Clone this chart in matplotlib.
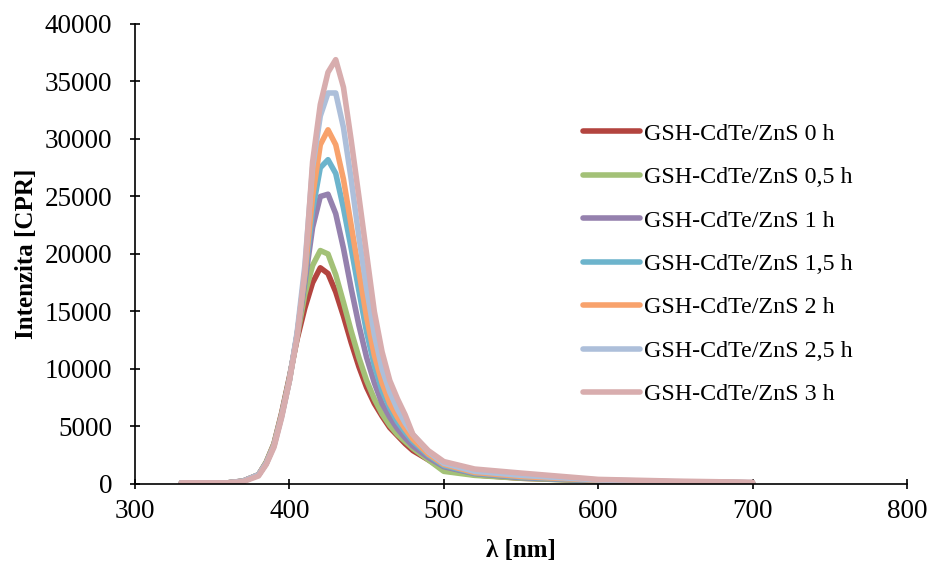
import matplotlib.pyplot as plt
import numpy as np

plt.rcParams["font.family"] = ["Liberation Serif", "DejaVu Serif"]

# wavelength grid (nm)
wl = [330, 360, 370, 380, 385, 390, 395, 400, 405, 410, 415, 420, 425, 430, 435, 440, 445,
      450, 455, 460, 465, 470, 475, 480, 490, 500, 520, 550, 600, 650, 700]

# intensities (CPR)
i_0h = [100, 100, 250, 800, 1900, 3500, 6200, 9300, 12600, 15300, 17500, 18800, 18300, 16700, 14600, 12300, 10200,
        8400, 7000, 5900, 4900, 4200, 3500, 2900, 2100, 1300, 800, 500, 280, 170, 100]
i_05h = [100, 100, 250, 800, 1900, 3500, 6100, 9200, 12800, 16500, 19000, 20300, 20000, 18200, 15800, 13300, 11000,
         9000, 7400, 6100, 5100, 4300, 3700, 3100, 2100, 1100, 750, 500, 250, 150, 100]
i_1h = [100, 100, 250, 800, 1800, 3400, 6000, 9100, 13000, 17500, 22300, 25000, 25200, 23500, 20500, 17000, 13800,
        11000, 8800, 7000, 5800, 4800, 4000, 3300, 2300, 1500, 900, 550, 280, 170, 100]
i_15h = [100, 100, 250, 800, 1800, 3400, 6000, 9000, 13000, 18000, 23800, 27500, 28200, 27000, 24000, 20500, 16800,
         13200, 10300, 8100, 6600, 5400, 4500, 3700, 2500, 1600, 950, 600, 300, 180, 100]
i_2h = [100, 100, 250, 800, 1800, 3400, 6000, 9000, 13000, 18300, 25000, 29500, 30800, 29500, 26500, 22500, 18500,
        14500, 11200, 8800, 7000, 5800, 4800, 3900, 2600, 1700, 1000, 650, 320, 180, 100]
i_25h = [100, 100, 250, 800, 1800, 3300, 5900, 9000, 13200, 19000, 27500, 32000, 34000, 34000, 31000, 26500, 21500,
         17000, 13000, 10000, 8000, 6500, 5300, 4300, 2800, 1800, 1100, 750, 350, 200, 120]
i_3h = [100, 100, 200, 700, 1700, 3200, 5800, 9000, 12800, 18500, 28000, 33000, 35800, 36900, 34500, 29900, 25000,
        20000, 15000, 11500, 9000, 7400, 6000, 4300, 2900, 1950, 1300, 950, 400, 250, 150]

labels = ["GSH-CdTe/ZnS 0 h", "GSH-CdTe/ZnS 0,5 h", "GSH-CdTe/ZnS 1 h", "GSH-CdTe/ZnS 1,5 h",
          "GSH-CdTe/ZnS 2 h", "GSH-CdTe/ZnS 2,5 h", "GSH-CdTe/ZnS 3 h"]
series = [i_0h, i_05h, i_1h, i_15h, i_2h, i_25h, i_3h]
colors = ["#B3443F", "#A3C177", "#9581AE", "#6DB4CC", "#F8A26C", "#ADBFDA", "#D8ADAE"]

fig = plt.figure(figsize=(9.3, 5.66), dpi=100)
ax = fig.add_axes([0.1452, 0.1449, 0.830, 0.8127])

for y, lab, c in zip(series, labels, colors):
    ax.plot(wl, y, color=c, lw=4, label=lab, solid_capstyle="round", solid_joinstyle="round")

ax.set_xlim(300, 800)
ax.set_ylim(0, 40000)
ax.set_xticks(np.arange(300, 801, 100))
ax.set_yticks(np.arange(0, 40001, 5000))
ax.spines["top"].set_visible(False)
ax.spines["right"].set_visible(False)
for s in ("left", "bottom"):
    ax.spines[s].set_linewidth(1.2)
ax.tick_params(direction="inout", length=7, width=1.2, labelsize=19.5)
ax.tick_params(axis="y", pad=13)
ax.tick_params(axis="x", pad=7)
ax.set_xlabel("λ [nm]", fontsize=18, fontweight="bold", labelpad=11)
ax.set_ylabel("Intenzita [CPR]", fontsize=18, fontweight="bold", labelpad=5)

ax.legend(loc="center left", bbox_to_anchor=(0.580, 0.478), frameon=False, fontsize=17.3,
          handlelength=2.4, handletextpad=0.15, labelspacing=0.9, borderaxespad=0, borderpad=0)

fig.savefig("out.png", dpi=100)
